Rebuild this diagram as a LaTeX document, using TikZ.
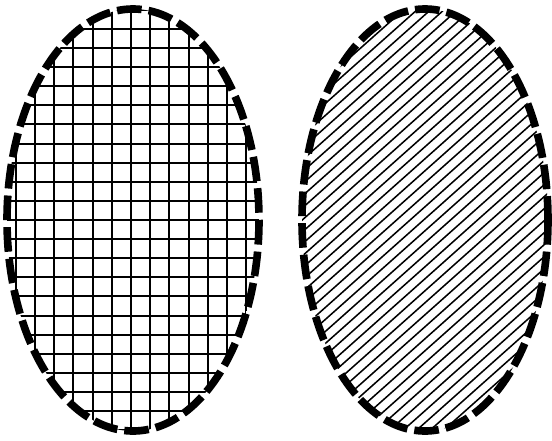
\documentclass[tikz,border=0pt]{standalone}
\usepackage{tikz}

\tikzset{
  rim/.style={line width=6.5pt, dash pattern=on 21pt off 6pt},
  gridline/.style={line width=1.707pt},
  hatchline/.style={line width=1.3pt}
}

\begin{document}
\begin{tikzpicture}[x=0.03cm, y=-0.03cm]
  \useasboundingbox (0,0) rectangle (552,440);
  % left blob, square mesh
  \begin{scope}
    \clip (133,220) ellipse [x radius=126, y radius=211];
    \foreach \k [evaluate=\k as \xx using {round(131+19.2*\k)}] in {-7,...,7}
      \draw[gridline] (\xx,0) -- (\xx,440);
    \foreach \k [evaluate=\k as \yy using {round(220+19.1*\k)}] in {-12,...,12}
      \draw[gridline] (0,\yy) -- (280,\yy);
  \end{scope}
  \draw[rim] (133,220) ellipse [x radius=126, y radius=211];
  % right blob, slanted hatching
  \begin{scope}
    \clip (425,220) ellipse [x radius=123, y radius=211];
    \foreach \k in {-22,...,34}
      \draw[hatchline] (290,{525+12*\k-0.89*290}) -- (560,{525+12*\k-0.89*560});
  \end{scope}
  \draw[rim] (425,220) ellipse [x radius=123, y radius=211];
\end{tikzpicture}
\end{document}
